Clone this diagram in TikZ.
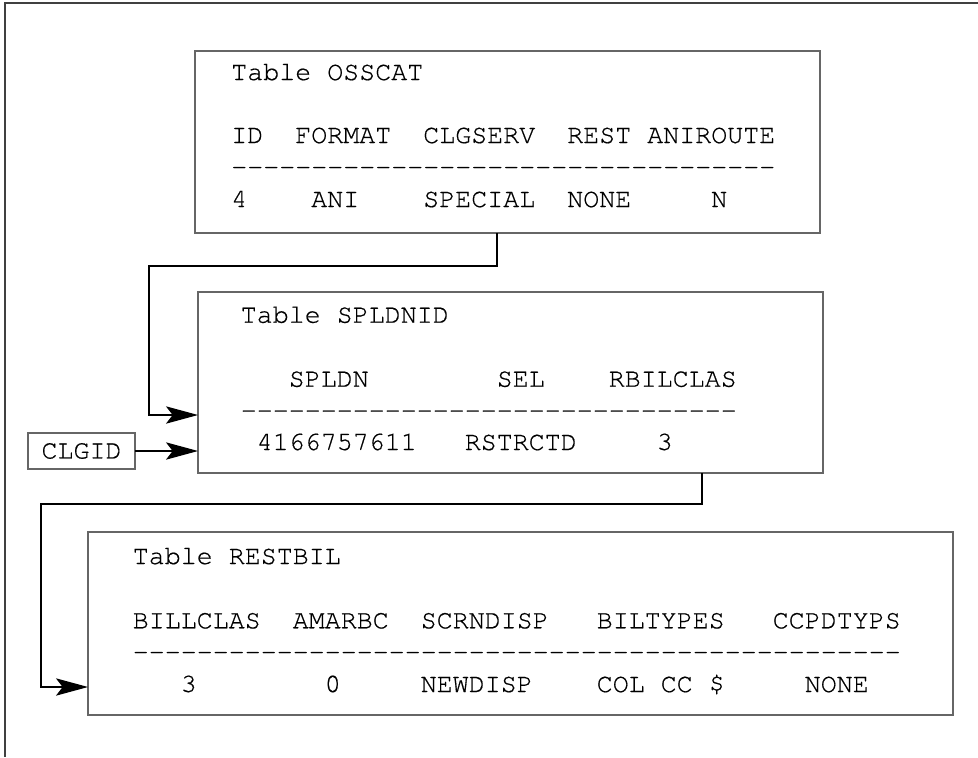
\documentclass[tikz,border=0pt]{standalone}
\usepackage{fontspec}
\setmonofont{texgyrecursor-regular.otf}[FakeBold=0.5]
\usepackage{tikz}
\usetikzlibrary{arrows.meta,positioning}

% one fixed-width cell per character, like a terminal listing
\newcommand\typerow[1]{\typecell#1\relax}
\newcommand\typecell[1]{\ifx\relax#1\else\makebox[12pt][c]{#1}\expandafter\typecell\fi}

\begin{document}
\begin{tikzpicture}[
    x=0.75pt, y=-0.75pt,
    every node/.style={font=\ttfamily\fontsize{20}{24}\selectfont, inner sep=0pt},
    tablebox/.style={draw=black!60, line width=1pt, outer sep=0pt},
    rowtext/.style={anchor=base west},
    flow/.style={line width=0.9pt, -{Stealth[length=24pt, width=13pt, inset=5pt]}}
]

\useasboundingbox (0,0) rectangle (978,757);

% Page frame (only top and left edges show)
\draw[black!75, line width=1.1pt] (978,3) -- (5,3) -- (5,757);

% Table OSSCAT
\node[tablebox, minimum width=468.75pt, minimum height=136.5pt] (osscat) at (507.5,142) {};
\node[rowtext] (osscat-title) at (231,80) {\typerow{Table~OSSCAT}};
\node[rowtext] (osscat-head) at (231,143) {\typerow{ID~~FORMAT~~CLGSERV~~REST~ANIROUTE}};
\node[rowtext] (osscat-rule) at (231,175) {\typerow{----------------------------------}};
\node[rowtext] (osscat-data) at (231,207) {\typerow{4~~~~ANI~~~~SPECIAL~~NONE~~~~~N}};

% Table SPLDNID
\node[tablebox, minimum width=468.75pt, minimum height=135.75pt] (spldnid) at (510.5,382.5) {};
\node[rowtext] (spldnid-title) at (240.5,322.7) {\typerow{Table~SPLDNID}};
\node[rowtext] (spldnid-head) at (240.5,386.7) {\typerow{~~~SPLDN~~~~~~~~SEL~~~~RBILCLAS}};
\node[rowtext] (spldnid-rule) at (240.5,418.5) {\typerow{-------------------------------}};
\node[rowtext] (spldnid-data) at (240.5,450) {\typerow{~4166757611~~~RSTRCTD~~~~~3}};

% Calling id input
\node[tablebox, minimum width=80.25pt, minimum height=27pt] (clgid) at (81.5,451) {\typerow{CLGID}};

% Table RESTBIL
\node[tablebox, minimum width=648.75pt, minimum height=137.25pt] (restbil) at (520.5,623.5) {};
\node[rowtext] (restbil-title) at (132.5,564) {\typerow{Table~RESTBIL}};
\node[rowtext] (restbil-head) at (132.5,628.3) {\typerow{BILLCLAS~~AMARBC~~SCRNDISP~~~BILTYPES~~~CCPDTYPS}};
\node[rowtext] (restbil-rule) at (132.5,660) {\typerow{------------------------------------------------}};
\node[rowtext] (restbil-data) at (132.5,692) {\typerow{~~~3~~~~~~~~0~~~~~NEWDISP~~~~COL~CC~\$~~~~~NONE}};

% Links between the tables
\coordinate (turn1a) at (497,266);
\coordinate (turn1b) at (149,415);
\draw[flow] (osscat.south -| turn1a) -- (turn1a) -| (turn1b) -- (turn1b -| spldnid.west);

\draw[flow] (clgid.east) -- (clgid.east -| spldnid.west);

\coordinate (turn2a) at (702,504);
\coordinate (turn2b) at (41,687);
\draw[flow] (spldnid.south -| turn2a) -- (turn2a) -| (turn2b) -- (turn2b -| restbil.west);

\end{tikzpicture}
\end{document}
